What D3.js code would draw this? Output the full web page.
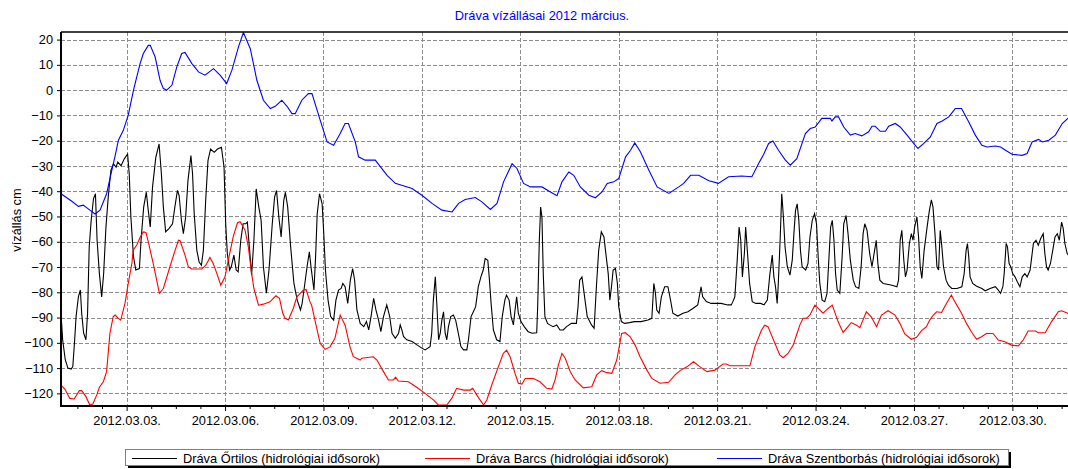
<!DOCTYPE html>
<html>
<head>
<meta charset="utf-8">
<script src="https://cdn.jsdelivr.net/npm/d3@7"></script>
<style>
  body { margin: 0; background: #fff; }
  svg { display: block; font-family: "Liberation Sans", Arial, sans-serif; }
</style>
</head>
<body>
<svg id="chart" width="1068" height="469"></svg>
<script>
// time = days since 2012.03.01 00:00, levels in cm
const ortilosDays = [0.00,0.05,0.13,0.21,0.31,0.36,0.41,0.46,0.53,0.59,0.63,0.69,0.76,0.81,0.86,0.92,0.99,1.05,1.10,1.17,1.24,1.30,1.37,1.44,1.52,1.60,1.68,1.73,1.83,1.93,2.03,2.08,2.13,2.21,2.28,2.39,2.44,2.52,2.60,2.66,2.72,2.79,2.89,2.99,3.06,3.12,3.19,3.29,3.40,3.47,3.55,3.60,3.67,3.73,3.80,3.87,3.96,4.01,4.06,4.14,4.21,4.28,4.34,4.41,4.48,4.56,4.67,4.77,4.89,4.97,5.02,5.07,5.14,5.19,5.27,5.34,5.40,5.48,5.55,5.63,5.68,5.75,5.81,5.88,5.95,6.03,6.10,6.17,6.26,6.34,6.44,6.51,6.57,6.64,6.71,6.79,6.84,6.91,7.00,7.10,7.20,7.30,7.35,7.42,7.50,7.57,7.62,7.71,7.76,7.81,7.88,7.96,8.01,8.06,8.14,8.22,8.31,8.38,8.46,8.54,8.59,8.66,8.74,8.82,8.89,8.95,9.02,9.12,9.23,9.31,9.38,9.45,9.53,9.60,9.68,9.75,9.83,9.93,10.02,10.09,10.19,
  10.29,10.34,10.39,10.44,10.54,10.70,10.85,11.00,11.10,11.25,11.30,11.35,11.41,11.46,11.51,11.56,11.61,11.66,11.71,11.76,11.81,11.88,11.96,12.03,12.11,12.19,12.27,12.37,12.42,12.50,12.57,12.64,12.72,12.80,12.87,12.93,13.01,13.06,13.11,13.18,13.28,13.38,13.45,13.53,13.58,13.66,13.72,13.79,13.84,13.89,13.94,14.02,14.12,14.24,14.36,14.50,14.53,14.58,14.62,14.66,14.70,14.75,14.83,14.90,15.00,15.11,15.21,15.31,15.41,15.56,15.71,15.76,15.81,15.88,15.96,16.04,16.17,16.25,16.32,16.39,16.47,16.55,16.62,16.68,16.73,16.78,16.83,16.90,16.96,17.00,17.08,17.18,17.33,17.48,17.68,17.89,18.01,18.07,18.12,18.16,18.23,18.30,18.40,18.50,18.58,18.65,18.80,18.96,19.11,19.26,19.41,19.51,19.56,19.67,19.82,19.97,20.12,20.32,20.43,20.48,
  20.54,20.60,20.67,20.72,20.77,20.83,20.87,20.92,20.99,21.07,21.18,21.33,21.43,21.53,21.61,21.68,21.73,21.78,21.83,21.86,21.92,21.97,22.02,22.07,22.14,22.22,22.29,22.34,22.39,22.44,22.49,22.54,22.59,22.70,22.77,22.83,22.90,22.97,23.03,23.08,23.13,23.20,23.28,23.35,23.41,23.46,23.51,23.56,23.61,23.66,23.74,23.81,23.86,23.93,23.99,24.06,24.15,24.22,24.32,24.39,24.45,24.50,24.57,24.65,24.72,24.80,24.85,24.90,24.96,25.06,25.18,25.33,25.48,25.53,25.58,25.63,25.69,25.74,25.79,25.86,25.92,25.97,26.02,26.09,26.14,26.19,26.24,26.31,26.40,26.47,26.53,26.58,26.64,26.70,26.75,26.80,26.85,26.90,26.98,27.05,27.15,27.31,27.46,27.53,27.59,27.63,27.67,27.71,27.79,27.91,28.07,28.17,28.32,28.48,28.57,28.64,28.71,28.75,28.81,28.85,28.90,28.95,29.01,29.08,29.15,29.23,29.30,29.38,29.45,29.54,29.59,29.64,29.72,29.79,29.86,29.94,29.99,30.04,30.09,30.16,30.23,30.30,30.37,30.43,30.50,30.55,30.60,30.67,30.75];
const ortilosLevels = [-88.3,-98.8,-106.7,-110,-110.4,-109.4,-100.2,-89.6,-81.8,-79.1,-88.3,-96.2,-98.8,-88.3,-62,-51.5,-43,-41,-59.4,-72.6,-81.8,-72.6,-54.2,-42.3,-31.8,-29.2,-30.5,-28.5,-29.9,-27.2,-25.3,-33.1,-50.2,-66,-71.2,-70.6,-59.4,-46.3,-40.4,-47.6,-54.2,-38.4,-26.6,-21.3,-33.1,-46.3,-56.1,-54.8,-52.9,-46.3,-39.7,-41.7,-51.5,-56.8,-50.2,-35.8,-25.9,-33.1,-48.9,-63.4,-68,-69.3,-63.4,-43.7,-27.9,-23.3,-24.6,-23.3,-22.6,-30.5,-52.9,-64.7,-71.2,-69.9,-65.3,-71.2,-71.9,-59.4,-52.9,-52.9,-52.2,-63.4,-73.2,-59.4,-39.1,-46.3,-51.5,-69.9,-80.4,-71.2,-52.9,-42.3,-39.7,-50.2,-58.1,-43.7,-40.4,-46.3,-62,-76.5,-83.1,-87,-84.4,-77.8,-69.9,-64,-69.9,-79.1,-66,-48.9,-41,-45,-56.8,-71.2,-83.1,-89.6,-91,-83.1,-79.1,-78.5,-76.5,-77.8,-84.4,-75.2,-70.6,-75.2,-87,-92.3,-93.6,-91.6,-94.9,-89.6,-82.4,-87,-91,-95.6,-89.6,-85,-89.6,-96.2,-98.2,
  -96.2,-92.9,-94.9,-97.5,-98.8,-99.5,-100.8,-102.1,-102.8,-101.5,-96.2,-83.1,-73.9,-85.7,-98.8,-96.2,-91,-87.7,-96.2,-98.8,-93.6,-89.6,-89,-91,-96.2,-101.5,-102.8,-102.8,-98.8,-89.6,-87.7,-85.7,-77.8,-73.9,-71.2,-66.6,-67.3,-75.2,-84.4,-94.9,-98.8,-99.5,-89.6,-83.1,-81.1,-83.1,-89.6,-92.9,-87,-81.8,-88.3,-91.6,-93.6,-95.6,-96.2,-96,-85.7,-59.4,-46.3,-50.2,-72.6,-89.6,-92.3,-92.9,-93.6,-92.9,-94.9,-94.9,-93.6,-92.3,-92.3,-85.7,-75.2,-73.9,-81.8,-89.6,-92.9,-94.2,-77.8,-63.4,-56.1,-58.1,-66,-72.6,-83.1,-77.8,-71.2,-70.6,-76.5,-85.7,-91.6,-92.3,-92,-91.6,-91.6,-91,-90.3,-76.5,-80.4,-87,-88.3,-81.8,-77.8,-77.8,-83.1,-88.3,-89.4,-88.3,-87.7,-86.4,-85,-77.8,-81.8,-83.7,-84.4,-84.4,-84.4,-85,-85,-83.7,
  -81.8,-69.9,-54.2,-59.4,-73.9,-64.7,-54.2,-63.4,-76.5,-83.7,-84.4,-84.4,-85,-83.1,-72.6,-65.3,-73.9,-77.8,-84.4,-77.8,-59.4,-41,-50.2,-62,-69.9,-73.2,-67.3,-56.8,-47.6,-45,-51.5,-63.4,-69.9,-71.2,-68.6,-58.1,-51.5,-48.9,-52.9,-66,-76.5,-83.1,-83.7,-80.4,-66,-54.2,-51.5,-59.4,-72.6,-79.1,-80.4,-66,-52.9,-49.6,-56.8,-67.3,-75.2,-77.8,-78.5,-69.9,-56.8,-52.9,-55.5,-64.7,-69.9,-63.4,-59.4,-68.6,-75.2,-76.5,-76.8,-77.2,-77.8,-75.2,-59.4,-55.5,-67.3,-73.9,-71.2,-60.7,-56.8,-59.4,-54.2,-50.2,-58.1,-69.9,-74.5,-63.4,-54.2,-47.6,-43.4,-46.3,-56.8,-69.9,-71.2,-55.5,-62,-69.9,-75.2,-77.2,-78.5,-78.5,-77.8,-72.6,-63.4,-60.7,-66,-73.9,-76.5,-77.6,-78.5,-79.4,-78.5,-77.8,-79.1,-80.4,-77.8,-72.6,-60.7,-62,-68.6,-69.9,-72.6,-73.9,-75.8,-77.8,-73.9,-72.6,-73.9,-71.2,-66,-60.7,-59.4,-61.4,-58.8,-56.8,-64.7,-69.9,-71.2,-68.6,-63.4,-58.1,-56.8,-59.4,-52.2,-54.8,-60.7,-64.7,-66];

const barcsDays = [0.00,0.12,0.27,0.40,0.56,0.63,0.76,0.88,0.97,1.09,1.17,1.29,1.39,1.49,1.59,1.65,1.75,1.82,1.90,1.95,2.05,2.16,2.20,2.31,2.41,2.51,2.59,2.66,2.81,3.00,3.12,3.32,3.48,3.58,3.63,3.78,3.88,3.98,4.29,4.42,4.54,4.64,4.75,4.87,5.00,5.10,5.25,5.38,5.46,5.61,5.71,5.81,5.88,6.02,6.17,6.37,6.55,6.66,6.76,6.83,6.93,7.08,7.19,7.39,7.47,7.59,7.64,7.74,7.90,8.05,8.20,8.35,8.51,8.66,8.81,8.91,9.12,9.17,9.52,9.63,9.83,9.98,10.13,10.20,10.28,10.59,10.84,11.10,11.35,11.50,11.76,11.91,12.06,12.27,12.47,12.55,12.67,12.88,12.98,13.13,13.33,13.48,13.58,13.69,13.84,13.94,14.05,14.15,14.40,14.60,14.81,14.96,15.06,15.16,15.27,15.37,15.52,15.67,15.92,16.18,16.33,16.48,16.64,16.79,16.94,17.09,17.20,17.35,17.50,17.65,17.86,18.01,18.26,18.52,18.72,18.87,19.08,19.28,19.48,19.69,19.93,20.18,20.28,20.39,21.00,21.15,21.35,21.45,21.55,21.76,21.91,22.01,22.16,22.32,22.42,22.52,22.62,22.72,22.83,22.98,23.08,23.23,23.38,23.51,23.69,23.84,23.99,24.09,24.25,24.35,24.55,24.70,24.86,25.01,25.21,25.42,25.57,25.72,25.92,26.08,26.23,26.38,26.48,26.59,26.69,26.84,26.99,27.14,27.25,27.45,27.60,27.75,27.91,28.06,28.21,28.41,28.57,28.77,28.97,29.18,29.33,29.48,29.70,29.79,30.00,30.19,30.40,30.50,30.75];
const barcsLevels = [-116.7,-118.4,-122,-122.2,-118.9,-118.9,-121.3,-124.6,-124.2,-120.6,-117.6,-115.4,-111.4,-96.3,-89.7,-89,-90.3,-91,-87,-84.4,-76.5,-68.6,-63.3,-61.3,-58.3,-56.1,-56.3,-60,-68.6,-80.4,-78.5,-69.9,-63.3,-59.4,-59.6,-65.3,-69.9,-70.8,-70.8,-69.2,-66.2,-68.6,-72.5,-77.2,-73.9,-67.3,-58,-52.5,-52.1,-55.4,-62,-72.5,-78.5,-85.1,-84.7,-83.8,-81.4,-82.4,-88.3,-90.3,-91,-86.4,-81.8,-79.1,-78.9,-83.8,-85.1,-91,-100.2,-102.6,-101.6,-98.2,-89,-93,-101.6,-105.5,-106.8,-106.1,-105.5,-106.8,-111.4,-114.7,-114.7,-113.6,-115.1,-115.4,-117.6,-120,-122.6,-124.6,-124.6,-122,-118,-118.7,-118.7,-118,-120.6,-124.6,-122.6,-116.7,-109.5,-104.2,-102.9,-105.5,-112.1,-116,-116.3,-114.1,-114.1,-115.4,-118,-118.3,-114.7,-108.8,-104.2,-106.1,-111.4,-114.7,-117.8,-117.4,-112.7,-111,-111.8,-112.1,-106.8,-96.3,-96,-97.6,-100.9,-105.5,-110.8,-114.1,-116,-115.6,-112.7,-111,-109.5,-107.5,-109.5,-111.4,-110.8,-108.4,-108.4,-109.1,-109.1,-101.6,-95,-93,-93.6,-100.2,-104.8,-105.9,-104.2,-100.9,-96.9,-93,-90.3,-90.3,-89,-85.1,-86.4,-88.3,-86.4,-85.1,-91.7,-95.9,-93.6,-92,-93,-94,-87.7,-89.7,-93.6,-89,-87.3,-89,-92.3,-96.5,-98.6,-97.8,-95.2,-93.6,-91,-89,-87.7,-88,-84.4,-81.1,-83.8,-88.3,-92.3,-95.6,-98.6,-97.6,-96.3,-96.3,-98.9,-99.6,-100.9,-101.2,-98.9,-95.3,-95.3,-96,-96,-91.7,-87.7,-87.3,-88.6];

const szentborbasDays = [0.00,0.33,0.53,0.68,0.88,1.04,1.19,1.39,1.55,1.65,1.75,1.90,2.05,2.21,2.41,2.51,2.66,2.72,2.87,3.02,3.12,3.22,3.38,3.53,3.68,3.78,3.99,4.19,4.39,4.65,4.85,5.05,5.21,5.41,5.56,5.77,5.97,6.17,6.38,6.53,6.73,6.89,7.04,7.14,7.34,7.54,7.65,7.90,8.11,8.31,8.51,8.66,8.76,8.97,9.07,9.27,9.58,9.94,10.19,10.70,11.00,11.31,11.61,11.92,12.12,12.32,12.63,12.83,13.09,13.29,13.49,13.75,13.90,14.10,14.31,14.66,14.92,15.12,15.27,15.48,15.63,15.83,16.09,16.29,16.49,16.65,16.85,17.00,17.21,17.36,17.49,17.66,17.92,18.17,18.53,18.83,18.98,19.19,19.44,19.75,20.04,20.35,20.75,21.06,21.26,21.42,21.57,21.70,21.87,22.08,22.23,22.43,22.69,22.84,22.99,23.19,23.45,23.50,23.60,23.70,23.86,24.06,24.21,24.41,24.62,24.72,24.82,24.97,25.13,25.23,25.43,25.58,25.79,25.99,26.12,26.30,26.50,26.70,26.86,27.06,27.26,27.45,27.67,27.87,28.07,28.23,28.48,28.64,28.79,28.99,29.30,29.45,29.60,29.80,29.91,30.11,30.31,30.52,30.75];
const szentborbasLevels = [-41,-44,-46,-45.5,-47.5,-49,-47.5,-41,-31.7,-26,-19.8,-15.9,-9.9,0,10.5,14.5,17.7,17.7,13.1,3.9,0.6,0,1.9,9.2,14.5,14.9,10.5,7.2,5.9,8.5,5.9,2.6,7.9,17.1,22.8,16.4,3.9,-4,-7.3,-6.4,-4,-6.4,-9.3,-9.3,-4,-1.4,-1.4,-11.9,-20.5,-21.8,-17.2,-13.2,-13.2,-20.5,-26.4,-27.7,-27.7,-33.7,-36.9,-38.9,-41.6,-44.8,-47.5,-48.2,-44.8,-43.3,-42.5,-44.2,-47.2,-44.8,-36.3,-29.1,-31,-36.9,-38.3,-38.3,-40.3,-41.8,-36.3,-32.4,-33.7,-38.3,-41.6,-42.6,-40.3,-36.9,-36.3,-35,-26.4,-23.8,-20.9,-24.4,-31.7,-38.3,-40.9,-38.3,-36.9,-33.7,-33.7,-35.9,-36.9,-34.3,-34,-34.3,-29.1,-25.4,-21.1,-20.1,-23.8,-27.7,-29.7,-27.1,-17.2,-15.2,-14.6,-11.2,-11.2,-12.2,-10.6,-10.6,-14.6,-17.8,-17.2,-18.1,-16.5,-14.3,-14.3,-16.3,-16.3,-14.3,-13.2,-14.6,-17.8,-21.1,-23.1,-21.1,-18.5,-13.2,-12.2,-10.6,-7.3,-7.3,-12.6,-17.8,-21.8,-22.5,-22.1,-22.5,-23.8,-25.4,-25.8,-25.1,-20.5,-19.5,-20.5,-19.8,-17.8,-13.2,-10.5];

const seriesNames = ["Dráva Őrtilos (hidrológiai idősorok)", "Dráva Barcs (hidrológiai idősorok)", "Dráva Szentborbás (hidrológiai idősorok)"];
const seriesColors = ["#000000", "#ff0000", "#0000ff"];
const tickDays = [2, 5, 8, 11, 14, 17, 20, 23, 26, 29];
const minorTickDays = [0.5, 1.25, 2.75, 3.5, 4.25, 5.75, 6.5, 7.25, 8.75, 9.5, 10.25, 11.75, 12.5, 13.25, 14.75, 15.5, 16.25, 17.75, 18.5, 19.25, 20.75, 21.5, 22.25, 23.75, 24.5, 25.25, 26.75, 27.5, 28.25, 29.75, 30.5];
const yTickValues = [20, 10, 0, -10, -20, -30, -40, -50, -60, -70, -80, -90, -100, -110, -120];

const start = Date.UTC(2012, 2, 1);
const toDate = d => new Date(start + d * 864e5);

const margin = {left: 61, top: 32, right: 1078, bottom: 406};
const svg = d3.select("#chart");

const x = d3.scaleUtc().domain([toDate(0), toDate(31)]).range([margin.left, margin.right]);
const y = d3.scaleLinear().domain([-125, 23]).range([margin.bottom, margin.top]);

svg.append("rect").attr("width", 1068).attr("height", 469).attr("fill", "#fff");

svg.append("defs").append("clipPath").attr("id", "plot")
  .append("rect").attr("x", margin.left).attr("y", margin.top)
  .attr("width", margin.right - margin.left).attr("height", margin.bottom - margin.top);

// grid
const grid = svg.append("g").attr("stroke", "#8c8c8c").attr("stroke-dasharray", "4,2").attr("stroke-width", 1);
grid.selectAll(".h").data(yTickValues).join("line")
  .attr("x1", margin.left).attr("x2", margin.right)
  .attr("y1", d => Math.round(y(d)) + 0.5).attr("y2", d => Math.round(y(d)) + 0.5);
grid.selectAll(".v").data(tickDays).join("line")
  .attr("x1", d => Math.round(x(toDate(d))) + 0.5).attr("x2", d => Math.round(x(toDate(d))) + 0.5)
  .attr("y1", margin.top).attr("y2", margin.bottom);

// series
const series = [
  {days: ortilosDays, levels: ortilosLevels},
  {days: barcsDays, levels: barcsLevels},
  {days: szentborbasDays, levels: szentborbasLevels}
];
const line = d3.line().x(p => x(toDate(p[0]))).y(p => y(p[1]));
const lines = svg.append("g").attr("clip-path", "url(#plot)");
series.forEach((s, i) => {
  lines.append("path")
    .datum(s.days.map((d, k) => [d, s.levels[k]]))
    .attr("fill", "none")
    .attr("stroke", seriesColors[i])
    .attr("stroke-width", 1.1)
    .attr("d", line);
});

// axes
const font = "12.8px";
const yAxis = svg.append("g").attr("transform", `translate(${margin.left},0)`)
  .call(d3.axisLeft(y).tickValues(yTickValues).tickSize(4).tickPadding(4));
yAxis.select(".domain").remove();
yAxis.selectAll("text").attr("font-size", font).attr("fill", "#000").attr("font-family", "Liberation Sans, Arial, sans-serif");

const xAxis = svg.append("g").attr("transform", `translate(0,${margin.bottom})`)
  .call(d3.axisBottom(x).tickValues(tickDays.map(toDate)).tickSize(5).tickPadding(5)
    .tickFormat(d3.utcFormat("%Y.%m.%d.")));
xAxis.select(".domain").remove();
xAxis.selectAll("text").attr("font-size", font).attr("fill", "#000").attr("font-family", "Liberation Sans, Arial, sans-serif");

const minor = svg.append("g").attr("transform", `translate(0,${margin.bottom})`)
  .call(d3.axisBottom(x).tickValues(minorTickDays.map(toDate)).tickSize(3).tickFormat(""));
minor.select(".domain").remove();

// frame
svg.append("line").attr("x1", margin.left).attr("x2", margin.right)
  .attr("y1", margin.top).attr("y2", margin.top).attr("stroke", "#000").attr("stroke-width", 1.5);
svg.append("line").attr("x1", margin.left).attr("x2", margin.left)
  .attr("y1", margin.top).attr("y2", margin.bottom + 1).attr("stroke", "#000").attr("stroke-width", 2);
svg.append("line").attr("x1", margin.left).attr("x2", margin.right)
  .attr("y1", margin.bottom).attr("y2", margin.bottom).attr("stroke", "#000").attr("stroke-width", 2);

// titles
svg.append("text").attr("x", 542).attr("y", 20).attr("text-anchor", "middle")
  .attr("font-size", font).attr("fill", "#0000ff").text("Dráva vízállásai 2012 március.");
svg.append("text").attr("transform", "translate(21,220) rotate(-90)").attr("text-anchor", "middle")
  .attr("font-size", font).attr("fill", "#000").text("vízállás cm");

// legend
const legend = svg.append("g");
legend.append("rect").attr("x", 128).attr("y", 452).attr("width", 883).attr("height", 16).attr("fill", "#000");
legend.append("rect").attr("x", 125.5).attr("y", 449.5).attr("width", 883).attr("height", 16)
  .attr("fill", "#fff").attr("stroke", "#808080");
const legendX = [132, 425, 717];
seriesNames.forEach((name, i) => {
  legend.append("line").attr("x1", legendX[i]).attr("x2", legendX[i] + 45)
    .attr("y1", 458.5).attr("y2", 458.5).attr("stroke", seriesColors[i]);
  legend.append("text").attr("x", legendX[i] + 51).attr("y", 462.5)
    .attr("font-size", font).attr("fill", "#000").text(name);
});
</script>
</body>
</html>
